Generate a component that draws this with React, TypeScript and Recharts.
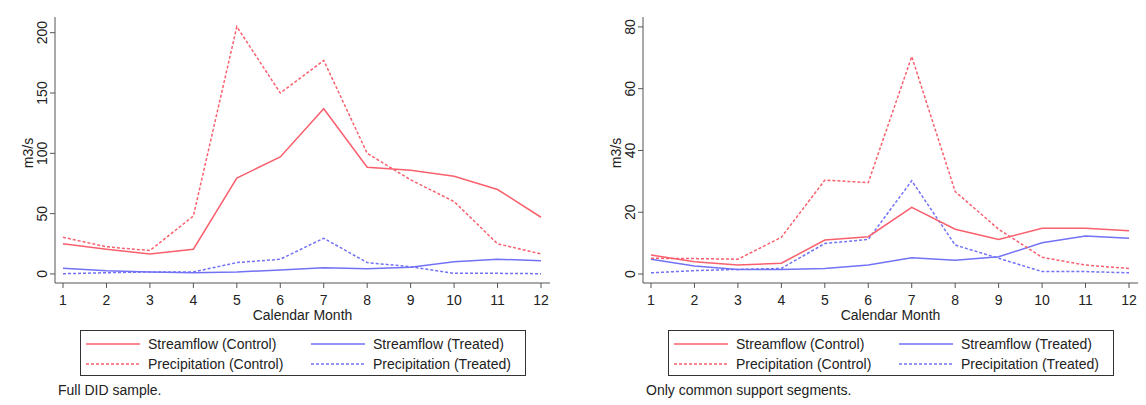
import { Label, Line, LineChart, XAxis, YAxis } from "recharts";

// Calendar months on the x axis
const MONTHS = [1, 2, 3, 4, 5, 6, 7, 8, 9, 10, 11, 12];

// Full DID sample (m3/s)
const FULL_STREAM_CONTROL = [25, 20.5, 16.6, 20.5, 79.5, 97, 137, 88.5, 86, 81, 70, 47];
const FULL_PRECIP_CONTROL = [30.4, 22.5, 19.4, 48, 205, 150, 177, 100, 78, 60, 25, 16.6];
const FULL_STREAM_TREATED = [4.7, 2.7, 1.7, 1.1, 1.7, 3.3, 5.2, 4.4, 5.5, 10.2, 12.2, 11];
const FULL_PRECIP_TREATED = [0.2, 1, 1.7, 1.7, 9.4, 12.2, 29.6, 9.4, 6, 0.5, 0.5, 0.2];

// Only common support segments (m3/s)
const CS_STREAM_CONTROL = [6.2, 4, 2.9, 3.5, 11, 12.1, 21.6, 14.5, 11.2, 14.8, 14.8, 14];
const CS_PRECIP_CONTROL = [5.1, 5, 4.8, 11.9, 30.4, 29.6, 70.4, 26.7, 14.5, 5.4, 2.9, 1.8];
const CS_STREAM_TREATED = [4.8, 2.6, 1.5, 1.5, 1.8, 2.9, 5.3, 4.5, 5.6, 10.1, 12.3, 11.6];
const CS_PRECIP_TREATED = [0.4, 1.1, 1.5, 1.8, 9.9, 11.2, 30.2, 9.4, 5.1, 0.8, 0.8, 0.4];

const FULL_Y_TICKS = [0, 50, 100, 150, 200];
const CS_Y_TICKS = [0, 20, 40, 60, 80];

const SERIES_NAMES = [
  "Streamflow (Control)",
  "Streamflow (Treated)",
  "Precipitation (Control)",
  "Precipitation (Treated)",
];

const RED = "#f9606e";
const BLUE = "#7272f6";
const INK = "#222";
const AXIS_COLOR = "#555";
const FONT = "'Liberation Sans', Arial, sans-serif";

type Row = { month: number; sc: number; pc: number; st: number; pt: number };

function buildRows(sc: number[], pc: number[], st: number[], pt: number[]): Row[] {
  return MONTHS.map((m, i) => ({ month: m, sc: sc[i], pc: pc[i], st: st[i], pt: pt[i] }));
}

function YTick({ x, y, payload }: any) {
  return (
    <text
      x={x}
      y={y}
      transform={`rotate(-90 ${x} ${y})`}
      textAnchor="middle"
      dominantBaseline="central"
      fontSize={14}
      fontFamily={FONT}
      fill={INK}
    >
      {payload.value}
    </text>
  );
}

function LegendSwatch({ x, y, color, dashed }: { x: number; y: number; color: string; dashed: boolean }) {
  return (
    <line
      x1={x}
      x2={x + 54}
      y1={y}
      y2={y}
      stroke={color}
      strokeWidth={1.5}
      strokeDasharray={dashed ? "3 2" : undefined}
    />
  );
}

function Panel({
  left,
  rows,
  domain,
  ticks,
  note,
}: {
  left: number;
  rows: Row[];
  domain: [number, number];
  ticks: number[];
  note: string;
}) {
  const lineProps = { type: "linear" as const, dot: false, activeDot: false, isAnimationActive: false, strokeWidth: 1.5 };
  return (
    <div style={{ position: "absolute", left, top: 0, width: 570, height: 405 }}>
      <LineChart width={562} height={325} data={rows} margin={{ top: 17, right: 12, bottom: 0, left: 0 }}>
        <XAxis
          dataKey="month"
          type="number"
          domain={[1, 12]}
          ticks={MONTHS}
          padding={{ left: 8, right: 9 }}
          height={42}
          tickSize={5}
          tickMargin={7}
          stroke={AXIS_COLOR}
          tick={{ fontSize: 14, fill: INK, fontFamily: FONT }}
        >
          <Label
            content={({ viewBox }: any) => (
              <text
                x={viewBox.x + viewBox.width / 2}
                y={viewBox.y + 32}
                textAnchor="middle"
                dominantBaseline="central"
                fontSize={14}
                fontFamily={FONT}
                fill={INK}
              >
                Calendar Month
              </text>
            )}
          />
        </XAxis>
        <YAxis
          type="number"
          domain={domain}
          ticks={ticks}
          allowDataOverflow
          width={55}
          tickSize={5}
          tickMargin={8}
          stroke={AXIS_COLOR}
          tick={<YTick />}
        >
          <Label
            content={({ viewBox }: any) => {
              const cx = viewBox.x + 28;
              const cy = viewBox.y + viewBox.height / 2 + 3;
              return (
                <text
                  x={cx}
                  y={cy}
                  transform={`rotate(-90 ${cx} ${cy})`}
                  textAnchor="middle"
                  dominantBaseline="central"
                  fontSize={14}
                  fontFamily={FONT}
                  fill={INK}
                >
                  m3/s
                </text>
              );
            }}
          />
        </YAxis>
        <Line dataKey="pt" stroke={BLUE} strokeDasharray="3 2" {...lineProps} />
        <Line dataKey="st" stroke={BLUE} {...lineProps} />
        <Line dataKey="pc" stroke={RED} strokeDasharray="3 2" {...lineProps} />
        <Line dataKey="sc" stroke={RED} {...lineProps} />
      </LineChart>

      <svg
        width={446}
        height={46}
        style={{ position: "absolute", left: 80, top: 330, fontFamily: FONT }}
      >
        <rect x={0.5} y={0.5} width={445} height={45} fill="#fff" stroke="#333" />
        <LegendSwatch x={6} y={14} color={RED} dashed={false} />
        <text x={68} y={14} dominantBaseline="central" fontSize={14} fill={INK}>
          {SERIES_NAMES[0]}
        </text>
        <LegendSwatch x={231} y={14} color={BLUE} dashed={false} />
        <text x={293} y={14} dominantBaseline="central" fontSize={14} fill={INK}>
          {SERIES_NAMES[1]}
        </text>
        <LegendSwatch x={6} y={34} color={RED} dashed />
        <text x={68} y={34} dominantBaseline="central" fontSize={14} fill={INK}>
          {SERIES_NAMES[2]}
        </text>
        <LegendSwatch x={231} y={34} color={BLUE} dashed />
        <text x={293} y={34} dominantBaseline="central" fontSize={14} fill={INK}>
          {SERIES_NAMES[3]}
        </text>
      </svg>

      <div
        style={{
          position: "absolute",
          left: 58,
          top: 382,
          fontSize: 14,
          lineHeight: "17px",
          fontFamily: FONT,
          color: INK,
          whiteSpace: "nowrap",
        }}
      >
        {note}
      </div>
    </div>
  );
}

export default function App() {
  const fullRows = buildRows(FULL_STREAM_CONTROL, FULL_PRECIP_CONTROL, FULL_STREAM_TREATED, FULL_PRECIP_TREATED);
  const csRows = buildRows(CS_STREAM_CONTROL, CS_PRECIP_CONTROL, CS_STREAM_TREATED, CS_PRECIP_TREATED);
  return (
    <div style={{ position: "absolute", left: 0, top: 0, width: 1146, height: 405, background: "#fff" }}>
      <Panel left={0} rows={fullRows} domain={[-7.5, 213]} ticks={FULL_Y_TICKS} note="Full DID sample." />
      <Panel left={588} rows={csRows} domain={[-2.9, 83.2]} ticks={CS_Y_TICKS} note="Only common support segments." />
    </div>
  );
}
